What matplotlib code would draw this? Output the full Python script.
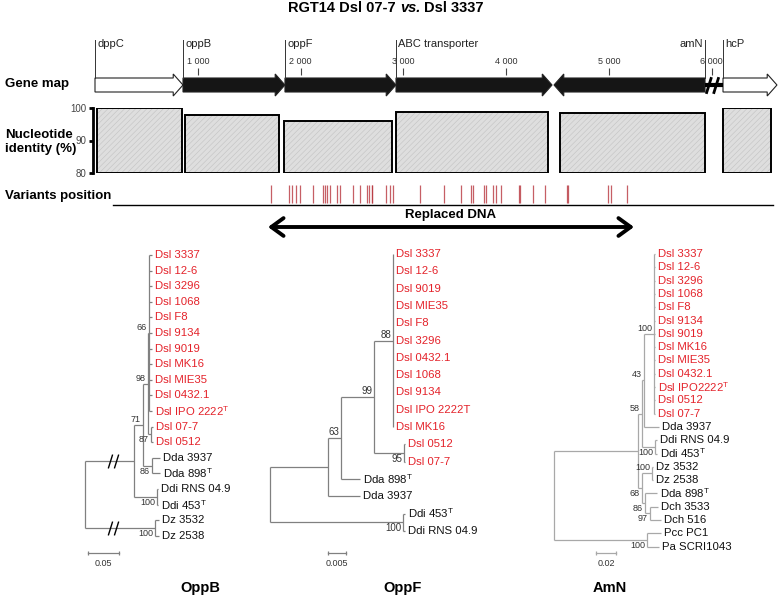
import numpy as np
import matplotlib
matplotlib.use("Agg")
import matplotlib.pyplot as plt
from matplotlib.patches import Polygon
from matplotlib.path import Path
from matplotlib.offsetbox import TextArea, HPacker, AnchoredOffsetbox
from matplotlib.transforms import offset_copy

plt.rcParams['font.family'] = ['Liberation Sans', 'DejaVu Sans']
plt.rcParams['mathtext.fontset'] = 'custom'
plt.rcParams['mathtext.rm'] = 'Liberation Sans'
plt.rcParams['mathtext.it'] = 'Liberation Sans:italic'
plt.rcParams['mathtext.bf'] = 'Liberation Sans:bold'
plt.rcParams['hatch.linewidth'] = 0.4

# ────────────────────────────────────────────────
# Data
# ────────────────────────────────────────────────
gene_names = ["dppC", "oppB", "oppF", "ABC transporter", "amN", "hcP"]
gene_start = [0, 856, 1848, 2928, 5934, 6109]      # amN is on the reverse strand
gene_end   = [856, 1848, 2928, 4446, 4465, 6634]
flanking_genes = ["dppC", "hcP"]
gene_break_bp = 6000
pos_ticks = [1000, 2000, 3000, 4000, 5000, 6000]

identity_start = [23, 875, 1838, 2928, 4523, 6112]
identity_end   = [843, 1793, 2889, 4410, 5934, 6572]
identity_pct   = [100.0, 97.9, 96.1, 98.9, 98.4, 100.0]
identity_ticks = [80, 90, 100]

variants_bp = [1712, 1884, 1916, 1955, 1994, 2117, 2221, 2240, 2260, 2286,
               2357, 2383, 2507, 2578, 2643, 2669, 2691, 2699, 2831, 2870,
               2902, 3161, 3395, 3557, 3654, 3674, 3784, 3803, 3868, 3901,
               3946, 4124, 4132, 4264, 4377, 4588, 4604, 4993, 5016, 5172]

replaced_start, replaced_end = 1683, 5243

T = r"$^\mathrm{T}$"

# trees: leaf = (name, branch length); clade = ([children], length, bootstrap, broken)
oppb_dsl = ["Dsl 3337", "Dsl 12-6", "Dsl 3296", "Dsl 1068", "Dsl F8", "Dsl 9134",
            "Dsl 9019", "Dsl MK16", "Dsl MIE35", "Dsl 0432.1", "Dsl IPO 2222" + T]
oppb_tree = ([
    ([
        ([
            ([
                ([(n, 0.0048) for n in oppb_dsl], 0.0016, 66),
                ([("Dsl 07-7", 0.0032), ("Dsl 0512", 0.0032)], 0.005, 87),
            ], 0.008, 98),
            ([("Dda 3937", 0.013), ("Dda 898" + T, 0.013)], 0.0145, 86),
        ], 0.0145, 71),
        ([("Ddi RNS 04.9", 0.0016), ("Ddi 453" + T, 0.0016)], 0.037, 100),
    ], 0.079, None, True),
    ([("Dz 3532", 0.0065), ("Dz 2538", 0.0065)], 0.113, 100, True),
], 0.0, None)

oppf_dsl = ["Dsl 3337", "Dsl 12-6", "Dsl 9019", "Dsl MIE35", "Dsl F8", "Dsl 3296",
            "Dsl 0432.1", "Dsl 1068", "Dsl 9134", "Dsl IPO 2222T", "Dsl MK16"]
oppf_tree = ([
    ([
        ([
            ([
                ([(n, 0.0) for n in oppf_dsl], 0.0053, 88),
                ([("Dsl 0512", 0.0004), ("Dsl 07-7", 0.0004)], 0.0083, 95),
            ], 0.0092, 99),
            ("Dda 898" + T, 0.0053),
        ], 0.0036, 63),
        ("Dda 3937", 0.0089),
    ], 0.0161, None),
    ([("Ddi 453" + T, 0.0004), ("Ddi RNS 04.9", 0.0004)], 0.037, 100),
], 0.0, None)

amn_dsl = ["Dsl 3337", "Dsl 12-6", "Dsl 3296", "Dsl 1068", "Dsl F8", "Dsl 9134",
           "Dsl 9019", "Dsl MK16", "Dsl MIE35", "Dsl 0432.1", "Dsl IPO2222" + T,
           "Dsl 0512", "Dsl 07-7"]
amn_tree = ([
    ([
        ([
            ([
                ([(n, 0.001) for n in amn_dsl], 0.010, 100),
                ("Dda 3937", 0.015),
            ], 0.002, 43),
            ([("Ddi RNS 04.9", 0.002), ("Ddi 453" + T, 0.002)], 0.013, 100),
        ], 0.004, 58),
        ([
            ([("Dz 3532", 0.001), ("Dz 2538", 0.001)], 0.010, 100),
            ([
                ("Dda 898" + T, 0.012),
                ([("Dch 3533", 0.008), ("Dch 516", 0.011)], 0.005, 97),
            ], 0.003, 86),
        ], 0.004, 68),
    ], 0.084, None),
    ([("Pcc PC1", 0.014), ("Pa SCRI1043", 0.012)], 0.093, 100),
], 0.0, None)

# ────────────────────────────────────────────────
# Figure helpers (pixel layout, y from top)
# ────────────────────────────────────────────────
W, H = 778, 597
fig = plt.figure(figsize=(W / 100, H / 100), dpi=100)

def px_axes(x0, y0, x1, y1):
    return fig.add_axes([x0 / W, 1 - y1 / H, (x1 - x0) / W, (y1 - y0) / H])

def ftext(x, y, s, **kw):
    return fig.text(x / W, 1 - y / H, s, **kw)

BP0, PX_PER_BP = 95.0, 0.1028
def bp_lim(x0, x1):
    return ((x0 - BP0) / PX_PER_BP, (x1 - BP0) / PX_PER_BP)

BREAK = Path([(-6, -8), (-1, 8), (1, -8), (6, 8)],
             [Path.MOVETO, Path.LINETO, Path.MOVETO, Path.LINETO])
RED = '#e4222a'
LABEL_KW = dict(fontsize=9.5, fontweight='bold', va='center', ha='left')

# ────────────────────────────────────────────────
# Title
# ────────────────────────────────────────────────
tp = dict(fontsize=10.5, fontweight='bold')
title = HPacker(children=[TextArea("RGT14 Dsl 07-7", textprops=tp),
                          TextArea("vs.", textprops=dict(tp, style='italic')),
                          TextArea("Dsl 3337", textprops=tp)],
                align='baseline', pad=0, sep=3)
fig.add_artist(AnchoredOffsetbox(loc='center', child=title, frameon=False, pad=0,
                                 borderpad=0, bbox_to_anchor=(386 / W, 1 - 8 / H),
                                 bbox_transform=fig.transFigure))

# ────────────────────────────────────────────────
# Gene map
# ────────────────────────────────────────────────
axg = px_axes(0, 30, W, 100)
axg.set_xlim(*bp_lim(0, W))
axg.set_ylim(100, 30)
axg.axis('off')
yc, bh, hh, hl = 85, 7, 11, 95
for name, s, e in zip(gene_names, gene_start, gene_end):
    d = 1 if e > s else -1
    neck = e - d * hl
    poly = [(s, yc - bh), (neck, yc - bh), (neck, yc - hh), (e, yc),
            (neck, yc + hh), (neck, yc + bh), (s, yc + bh)]
    fc = 'white' if name in flanking_genes else '#151515'
    axg.add_patch(Polygon(poly, closed=True, fc=fc, ec='#222222', lw=0.8))
    axg.plot([s, s], [40, yc - bh], color='#333333', lw=0.7)
    axg.text(s + d * 20, 44, name, ha='left' if d > 0 else 'right', va='center',
             fontsize=8, color='#222222')
gap_a = gene_start[gene_names.index("amN")]
gap_b = gene_start[gene_names.index("hcP")]
axg.plot([gap_a, gap_b], [yc, yc], color='black', lw=3, solid_capstyle='butt')
axg.plot([gene_break_bp], [yc], marker=BREAK, ms=12, mec='black', mew=2)
axg.vlines(pos_ticks, 68, 75, color='#444444', lw=0.8)
for p in pos_ticks:
    axg.text(p, 61, f"{p:,}".replace(",", " "), ha='center', va='center',
             fontsize=6.5, color='#333333')
ftext(5, 84, "Gene map", **LABEL_KW)

# ────────────────────────────────────────────────
# Nucleotide identity
# ────────────────────────────────────────────────
axi = px_axes(93, 108, 775, 173)
axi.set_xlim(*bp_lim(93, 775))
axi.set_ylim(80, 100)
for sp in ['top', 'right', 'bottom']:
    axi.spines[sp].set_visible(False)
axi.spines['left'].set_linewidth(2)
axi.set_xticks([])
axi.set_yticks(identity_ticks)
axi.tick_params(axis='y', length=3, width=2, labelsize=7, pad=2, labelcolor='#444444')
widths = np.subtract(identity_end, identity_start)
heights = np.subtract(identity_pct, 80)
axi.bar(identity_start, heights, width=widths, bottom=80, align='edge',
        color='#dedede', hatch='//////', edgecolor='#c2c2c2', lw=0)
axi.bar(identity_start, heights, width=widths, bottom=80, align='edge',
        fill=False, edgecolor='black', lw=1.4)
ftext(5, 142, "Nucleotide\nidentity (%)", linespacing=1.2, **LABEL_KW)

# ────────────────────────────────────────────────
# Variants + replaced DNA
# ────────────────────────────────────────────────
axv = px_axes(113, 183, 773, 205)
axv.set_xlim(*bp_lim(113, 773))
axv.set_ylim(0, 1)
for sp in ['top', 'right', 'left']:
    axv.spines[sp].set_visible(False)
axv.spines['bottom'].set_linewidth(1)
axv.set_xticks([])
axv.set_yticks([])
axv.vlines(variants_bp, 0.09, 0.91, color='#b8373f', lw=0.9, alpha=0.8)
ftext(5, 196, "Variants position", **LABEL_KW)

axr = px_axes(0, 205, W, 240)
axr.set_xlim(*bp_lim(0, W))
axr.set_ylim(240, 205)
axr.axis('off')
axr.annotate('', xy=(replaced_start, 227), xytext=(replaced_end, 227),
             arrowprops=dict(arrowstyle='<->, head_length=0.55, head_width=0.4',
                             lw=2.8, color='black', mutation_scale=16,
                             shrinkA=0, shrinkB=0))
axr.text((replaced_start + replaced_end) / 2, 215, "Replaced DNA", ha='center',
         va='center', fontsize=9.5, fontweight='bold')

# ────────────────────────────────────────────────
# Phylogenetic trees
# ────────────────────────────────────────────────
def draw_tree(x0, x1, root_px, px_per_unit, y_top, dy, tree, color, boot_fs,
              scale_len, scale_px, title, title_px, break_at=0.0):
    ax = px_axes(x0, 240, x1, 597)
    ax.set_xlim((x0 - root_px) / px_per_unit, (x1 - root_px) / px_per_unit)
    ax.set_ylim((597 - y_top) / dy, (240 - y_top) / dy)
    ax.axis('off')
    off_leaf = offset_copy(ax.transData, fig=fig, x=3, y=0, units='dots')
    off_up = offset_copy(ax.transData, fig=fig, x=-2, y=1, units='dots')
    off_dn = offset_copy(ax.transData, fig=fig, x=-2, y=-1, units='dots')
    line = dict(color=color, lw=0.9, solid_capstyle='butt')
    leaves = []

    def walk(node, xp, side):
        if isinstance(node[0], str):
            name, length = node
            y = len(leaves)
            leaves.append(name)
            if length > 0:
                ax.plot([xp, xp + length], [y, y], **line)
            ax.text(xp + length, y, name, transform=off_leaf, ha='left', va='center',
                    fontsize=8.2, color=RED if name.startswith("Dsl") else '#111111')
            return y
        children, length, support = node[:3]
        xn = xp + length
        n = len(children)
        ys = [walk(c, xn, 'up' if i == 0 else ('dn' if i == n - 1 else 'mid'))
              for i, c in enumerate(children)]
        y = (ys[0] + ys[-1]) / 2
        ax.plot([xn, xn], [ys[0], ys[-1]], **line)
        if length > 0:
            ax.plot([xp, xn], [y, y], **line)
        if len(node) > 3 and node[3]:
            ax.plot([xp + break_at], [y], marker=BREAK, ms=10, mec='black', mew=1)
        if support is not None:
            up = side == 'up'
            ax.text(xn, y, str(support), transform=off_up if up else off_dn,
                    ha='right', va='bottom' if up else 'top', fontsize=boot_fs,
                    color='#333333')
        return y

    walk(tree, 0.0, None)
    sb_x = (scale_px - root_px) / px_per_unit
    sb_y = (553 - y_top) / dy
    ax.plot([sb_x, sb_x + scale_len], [sb_y, sb_y], color=color, lw=0.9,
            marker='|', ms=3, mew=0.9)
    ax.text(sb_x + scale_len / 2, (563 - y_top) / dy, f"{scale_len:g}", ha='center',
            va='center', fontsize=6.5, color='#333333')
    ftext(title_px, 588, title, ha='center', va='center', fontsize=10.5,
          fontweight='bold')

draw_tree(0, 255, 85, 620, 255, 15.6, oppb_tree, '#808080', 6.5,
          0.05, 88, "OppB", 200, break_at=0.045)
draw_tree(255, 530, 270, 3600, 254, 17.3, oppf_tree, '#808080', 7,
          0.005, 328, "OppF", 403)
draw_tree(530, W, 554, 1000, 254, 13.3, amn_tree, '#a8a8a8', 6.5,
          0.02, 596, "AmN", 610)

fig.savefig("out.png", dpi=100)
